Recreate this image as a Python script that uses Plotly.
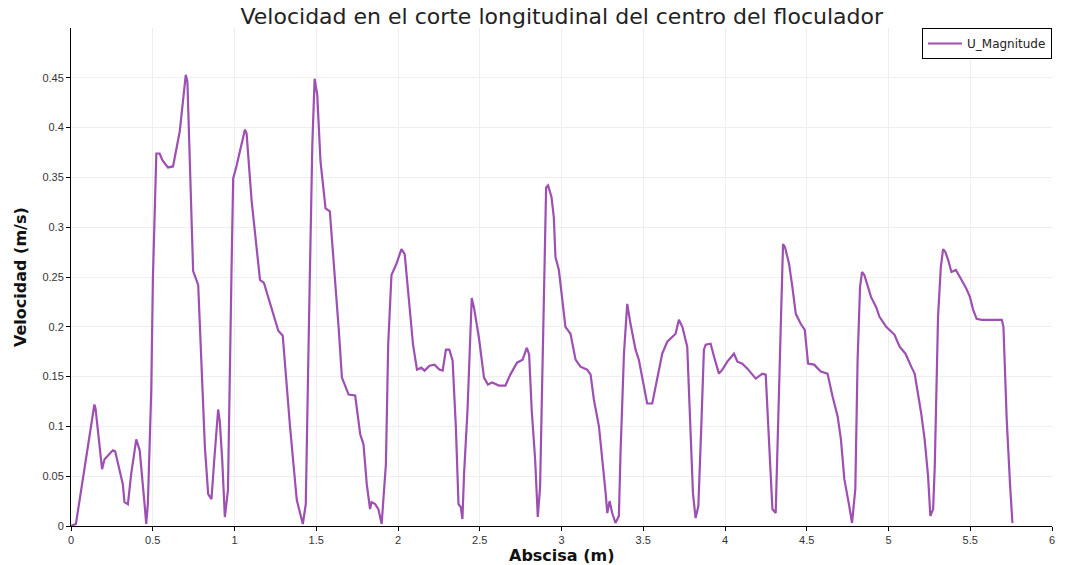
import plotly.graph_objects as go

abscisa = [0.0, 0.03, 0.143, 0.15, 0.19, 0.205, 0.256, 0.27, 0.317, 0.327, 0.348, 0.368, 0.399, 0.42, 0.45, 0.46,
           0.47, 0.481, 0.491, 0.501, 0.512, 0.522, 0.542, 0.56, 0.593, 0.624, 0.665, 0.702, 0.712, 0.73, 0.747,
           0.778, 0.798, 0.819, 0.839, 0.859, 0.876, 0.90, 0.91, 0.925, 0.941, 0.96, 0.982, 0.992, 1.013, 1.064,
           1.074, 1.105, 1.156, 1.18, 1.268, 1.295, 1.34, 1.381, 1.418, 1.436, 1.456, 1.476, 1.49, 1.506, 1.526,
           1.557, 1.583, 1.607, 1.637, 1.657, 1.698, 1.738, 1.769, 1.789, 1.809, 1.829, 1.839, 1.86, 1.88, 1.90,
           1.91, 1.926, 1.94, 1.96, 1.99, 2.021, 2.041, 2.071, 2.092, 2.116, 2.142, 2.162, 2.193, 2.223, 2.253,
           2.273, 2.293, 2.314, 2.334, 2.354, 2.37, 2.384, 2.394, 2.404, 2.425, 2.451, 2.465, 2.495, 2.526, 2.55,
           2.576, 2.617, 2.657, 2.687, 2.728, 2.762, 2.788, 2.802, 2.818, 2.839, 2.855, 2.869, 2.88, 2.89, 2.906,
           2.918, 2.939, 2.953, 2.963, 2.984, 3.004, 3.024, 3.055, 3.086, 3.116, 3.157, 3.178, 3.198, 3.229,
           3.249, 3.27, 3.28, 3.294, 3.31, 3.33, 3.351, 3.361, 3.382, 3.402, 3.422, 3.453, 3.473, 3.524, 3.555,
           3.586, 3.616, 3.647, 3.698, 3.718, 3.739, 3.769, 3.79, 3.804, 3.82, 3.837, 3.855, 3.871, 3.882, 3.912,
           3.933, 3.963, 3.984, 4.014, 4.055, 4.076, 4.106, 4.137, 4.188, 4.229, 4.249, 4.265, 4.28, 4.29, 4.31,
           4.32, 4.33, 4.341, 4.355, 4.367, 4.392, 4.412, 4.433, 4.463, 4.488, 4.508, 4.545, 4.586, 4.627, 4.658,
           4.689, 4.709, 4.73, 4.76, 4.777, 4.797, 4.811, 4.826, 4.838, 4.852, 4.893, 4.924, 4.945, 4.986, 5.016,
           5.037, 5.068, 5.104, 5.139, 5.16, 5.18, 5.2, 5.221, 5.242, 5.256, 5.273, 5.283, 5.303, 5.32, 5.334,
           5.348, 5.365, 5.385, 5.412, 5.447, 5.477, 5.498, 5.518, 5.539, 5.57, 5.641, 5.693, 5.703, 5.723,
           5.744, 5.758]

u_magnitude = [0.0, 0.002, 0.122, 0.118, 0.057, 0.067, 0.076, 0.075, 0.042, 0.024, 0.022, 0.052, 0.087, 0.076,
               0.022, 0.002, 0.022, 0.082, 0.137, 0.249, 0.309, 0.374, 0.374, 0.367, 0.360, 0.361, 0.396, 0.453,
               0.446, 0.343, 0.256, 0.242, 0.166, 0.079, 0.032, 0.027, 0.066, 0.117, 0.105, 0.066, 0.009, 0.036,
               0.259, 0.349, 0.362, 0.398, 0.394, 0.326, 0.247, 0.244, 0.196, 0.191, 0.099, 0.026, 0.002, 0.022,
               0.209, 0.383, 0.449, 0.433, 0.366, 0.319, 0.316, 0.266, 0.199, 0.149, 0.132, 0.131, 0.092, 0.082,
               0.042, 0.017, 0.024, 0.022, 0.017, 0.002, 0.024, 0.062, 0.182, 0.252, 0.263, 0.278, 0.273, 0.219,
               0.182, 0.157, 0.159, 0.156, 0.161, 0.162, 0.157, 0.156, 0.177, 0.177, 0.166, 0.099, 0.022, 0.019,
               0.007, 0.052, 0.116, 0.229, 0.219, 0.189, 0.149, 0.142, 0.144, 0.141, 0.141, 0.152, 0.164, 0.167,
               0.179, 0.172, 0.116, 0.066, 0.009, 0.039, 0.127, 0.24, 0.34, 0.342, 0.33, 0.31, 0.27, 0.257, 0.227,
               0.2, 0.193, 0.167, 0.16, 0.157, 0.152, 0.127, 0.1, 0.07, 0.033, 0.013, 0.025, 0.013, 0.003, 0.01,
               0.073, 0.173, 0.223, 0.203, 0.177, 0.167, 0.123, 0.123, 0.15, 0.173, 0.185, 0.193, 0.207, 0.2,
               0.18, 0.1, 0.033, 0.008, 0.02, 0.1, 0.177, 0.182, 0.183, 0.17, 0.153, 0.157, 0.165, 0.173, 0.165,
               0.163, 0.158, 0.148, 0.153, 0.152, 0.1, 0.053, 0.017, 0.013, 0.087, 0.133, 0.2, 0.283, 0.28, 0.263,
               0.24, 0.213, 0.203, 0.197, 0.163, 0.162, 0.155, 0.153, 0.13, 0.11, 0.087, 0.047, 0.02, 0.003, 0.037,
               0.167, 0.24, 0.255, 0.252, 0.23, 0.22, 0.21, 0.2, 0.195, 0.192, 0.18, 0.173, 0.16, 0.153, 0.133,
               0.113, 0.087, 0.05, 0.01, 0.017, 0.06, 0.21, 0.26, 0.278, 0.275, 0.267, 0.255, 0.257, 0.247, 0.238,
               0.23, 0.217, 0.208, 0.207, 0.207, 0.207, 0.2, 0.107, 0.04, 0.003]

x_ticks = [0, 0.5, 1, 1.5, 2, 2.5, 3, 3.5, 4, 4.5, 5, 5.5, 6]
x_tick_labels = ["0", "0.5", "1", "1.5", "2", "2.5", "3", "3.5", "4", "4.5", "5", "5.5", "6"]
y_ticks = [0, 0.05, 0.1, 0.15, 0.2, 0.25, 0.3, 0.35, 0.4, 0.45]
y_tick_labels = ["0", "0.05", "0.1", "0.15", "0.2", "0.25", "0.3", "0.35", "0.4", "0.45"]

fig = go.Figure()
fig.add_trace(go.Scatter(
    x=abscisa, y=u_magnitude, mode="lines", name="U_Magnitude",
    line=dict(color="#9d4fb2", width=2.2),
))

axis_title_font = dict(family="DejaVu Sans, sans-serif", size=16, color="#111")

fig.update_layout(
    width=1070, height=565,
    margin=dict(l=71, r=18, t=28, b=39),
    paper_bgcolor="white", plot_bgcolor="white",
    font=dict(family="DejaVu Sans, sans-serif", color="#333"),
    title=dict(text="Velocidad en el corte longitudinal del centro del floculador",
               x=0.525, xanchor="center", y=0.972, yanchor="middle",
               font=dict(family="DejaVu Sans, sans-serif", size=22, color="#222")),
    showlegend=True,
    legend=dict(x=1.0, xanchor="right", y=1.0, yanchor="top",
                bordercolor="black", borderwidth=1, bgcolor="white",
                font=dict(family="DejaVu Sans, sans-serif", size=12, color="#222"),
                itemwidth=34, tracegroupgap=0),
    xaxis=dict(
        range=[0, 6], tickmode="array", tickvals=x_ticks, ticktext=x_tick_labels,
        showline=True, linecolor="black", linewidth=1,
        ticks="outside", ticklen=4, tickcolor="black",
        showgrid=True, gridcolor="#eeeeee", gridwidth=1, zeroline=False,
        tickfont=dict(family="Liberation Sans, Arial, sans-serif", size=11, color="#333"),
        automargin=False,
    ),
    yaxis=dict(
        range=[0, 0.5], tickmode="array", tickvals=y_ticks, ticktext=y_tick_labels,
        showline=True, linecolor="black", linewidth=1,
        ticks="outside", ticklen=4, tickcolor="black",
        showgrid=True, gridcolor="#eeeeee", gridwidth=1, zeroline=False,
        tickfont=dict(family="Liberation Sans, Arial, sans-serif", size=11, color="#333"),
        automargin=False,
    ),
    annotations=[
        dict(text="<b>Abscisa (m)</b>", xref="paper", yref="paper", x=0.5, y=0,
             xanchor="center", yanchor="middle", yshift=-29, showarrow=False, font=axis_title_font),
        dict(text="<b>Velocidad (m/s)</b>", xref="paper", yref="paper", x=0, y=0.5,
             xanchor="center", yanchor="middle", xshift=-51, textangle=-90, showarrow=False,
             font=axis_title_font),
    ],
)

fig.write_html("out.html")
